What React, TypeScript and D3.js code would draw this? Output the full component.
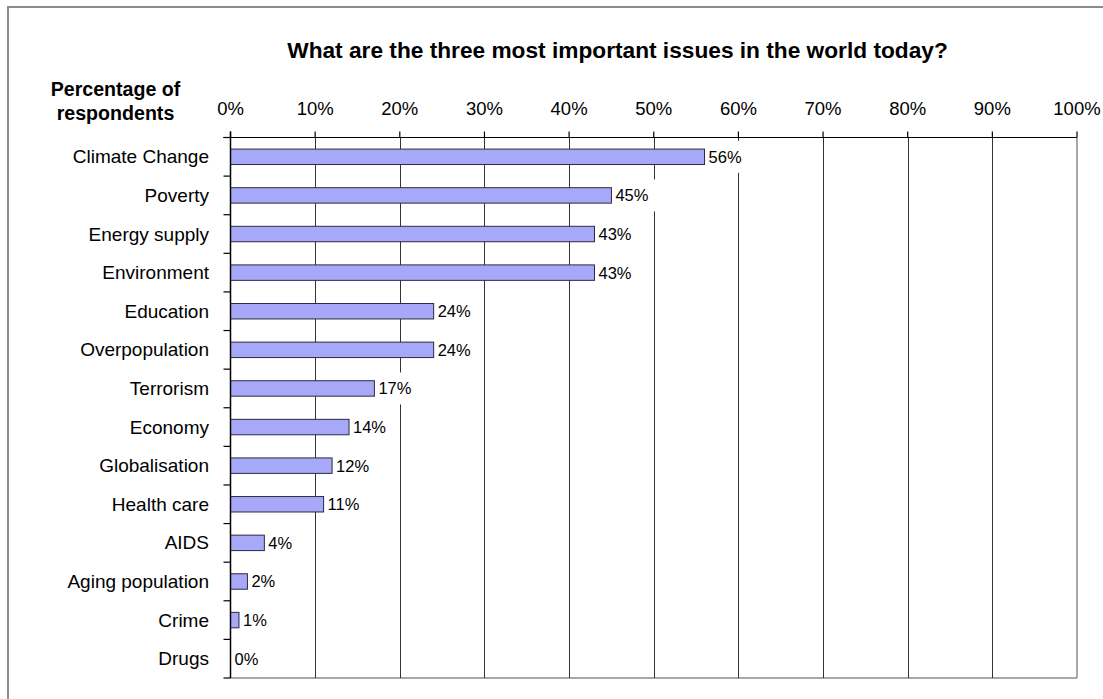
import React from "react";
import * as d3 from "d3";

const categories = [
  "Climate Change",
  "Poverty",
  "Energy supply",
  "Environment",
  "Education",
  "Overpopulation",
  "Terrorism",
  "Economy",
  "Globalisation",
  "Health care",
  "AIDS",
  "Aging population",
  "Crime",
  "Drugs",
];
const values = [56, 45, 43, 43, 24, 24, 17, 14, 12, 11, 4, 2, 1, 0];
const tickValues = [0, 10, 20, 30, 40, 50, 60, 70, 80, 90, 100];
const title = "What are the three most important issues in the world today?";
const axisTitle = ["Percentage of", "respondents"];

const FONT = "'Liberation Sans', Arial, sans-serif";

export default function App() {
  const W = 1103;
  const H = 699;
  const left = 230.5;
  const right = 1077;
  const top = 137.5;
  const bottom = 678;

  const x = d3.scaleLinear().domain([0, 100]).range([left, right]);
  const y = d3
    .scaleBand<string>()
    .domain(categories)
    .range([top, bottom])
    .paddingInner(0)
    .paddingOuter(0);
  const bw = y.bandwidth();
  const barH = bw * 0.4;

  const boundaries = d3.range(categories.length + 1).map((i) => top + i * bw);

  return (
    <svg
      width={W}
      height={H}
      style={{ position: "absolute", left: 0, top: 0, background: "#fff" }}
      fontFamily={FONT}
    >
      <rect x={0} y={0} width={W} height={H} fill="#fff" />
      {/* outer chart border (cropped on right/bottom) */}
      <rect x={8} y={7} width={W + 50} height={H + 50} fill="none" stroke="#8c8c8c" strokeWidth={2} />

      {/* title */}
      <text x={617.5} y={58} textAnchor="middle" fontSize={22.7} fontWeight="bold" fill="#000">
        {title}
      </text>

      {/* axis title */}
      <text x={115.5} y={96} textAnchor="middle" fontSize={19.6} fontWeight="bold" fill="#000">
        {axisTitle[0]}
      </text>
      <text x={115.5} y={120} textAnchor="middle" fontSize={19.6} fontWeight="bold" fill="#000">
        {axisTitle[1]}
      </text>

      {/* plot area border (gray) */}
      <line x1={right} x2={right} y1={top} y2={bottom} stroke="#8c8c8c" strokeWidth={1.5} />
      <line x1={left} x2={right} y1={bottom} y2={bottom} stroke="#8c8c8c" strokeWidth={1.5} />

      {/* gridlines */}
      {tickValues
        .filter((t) => t > 0 && t < 100)
        .map((t) => (
          <line
            key={"g" + t}
            x1={Math.round(x(t)) + 0.5}
            x2={Math.round(x(t)) + 0.5}
            y1={top}
            y2={bottom}
            stroke="#333"
            strokeWidth={1}
          />
        ))}

      {/* bars */}
      {categories.map((c, i) => {
        const yc = (y(c) as number) + bw / 2;
        const w = x(values[i]) - x(0);
        if (w <= 0) return null;
        return (
          <rect
            key={"b" + c}
            x={x(0)}
            y={yc - barH / 2}
            width={w}
            height={barH}
            fill="#a7a9f8"
            stroke="#2a2a40"
            strokeWidth={1}
          />
        );
      })}

      {/* data labels with white background */}
      {categories.map((c, i) => {
        const yc = (y(c) as number) + bw / 2;
        const lx = x(values[i]) + 4;
        const label = values[i] + "%";
        const tw = label.length * 11;
        return (
          <g key={"l" + c}>
            <rect x={lx - 2} y={yc - 16} width={tw + 10} height={32} fill="#fff" />
            <text x={lx} y={yc + 6} fontSize={16.5} fill="#000">
              {label}
            </text>
          </g>
        );
      })}

      {/* top axis */}
      <line x1={left - 7} x2={right} y1={top} y2={top} stroke="#000" strokeWidth={1.2} />
      {tickValues.map((t) => (
        <g key={"t" + t}>
          <line x1={x(t)} x2={x(t)} y1={top - 6} y2={top} stroke="#000" strokeWidth={1.2} />
          <text x={x(t)} y={115} textAnchor="middle" fontSize={18.5} fill="#000">
            {t + "%"}
          </text>
        </g>
      ))}

      {/* left axis */}
      <line x1={left} x2={left} y1={top - 6} y2={bottom} stroke="#000" strokeWidth={1.5} />
      {boundaries.map((b, i) => (
        <line key={"k" + i} x1={left - 7} x2={left} y1={b} y2={b} stroke="#000" strokeWidth={1.2} />
      ))}
      {categories.map((c) => (
        <text
          key={"c" + c}
          x={209}
          y={(y(c) as number) + bw / 2 + 6.6}
          textAnchor="end"
          fontSize={19}
          fill="#000"
        >
          {c}
        </text>
      ))}
    </svg>
  );
}
